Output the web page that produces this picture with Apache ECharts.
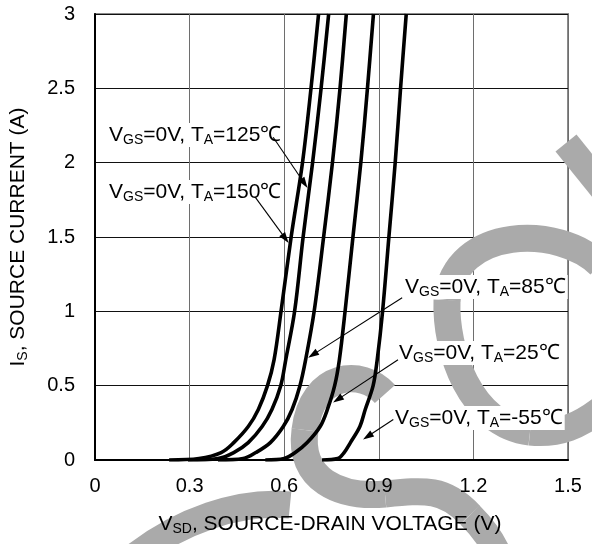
<!DOCTYPE html>
<html>
<head>
<meta charset="utf-8">
<script src="https://cdn.jsdelivr.net/npm/echarts@6/dist/echarts.min.js"></script>
<style>
html,body{margin:0;padding:0;background:#fff;}
#chart{width:592px;height:544px;}
</style>
</head>
<body>
<div id="chart"></div>
<script>
// ---- data (V_SD in volts, I_S in amperes) ----
var xTickLabels = ['0', '0.3', '0.6', '0.9', '1.2', '1.5'];
var yTickLabels = ['0', '0.5', '1', '1.5', '2', '2.5', '3'];

var curve150 = [[0.235,0],[0.33,0.01],[0.40,0.05],[0.44,0.117],[0.486,0.225],[0.518,0.34],[0.547,0.5],[0.568,0.675],[0.59,1.0],[0.622,1.5],[0.658,2.0],[0.685,2.5],[0.709,3.0]];
var curve125 = [[0.295,0],[0.39,0.01],[0.44,0.05],[0.486,0.117],[0.53,0.225],[0.561,0.34],[0.589,0.5],[0.605,0.675],[0.633,1.0],[0.66,1.5],[0.69,2.0],[0.717,2.5],[0.741,3.0]];
var curve85  = [[0.39,0],[0.47,0.01],[0.51,0.05],[0.556,0.117],[0.597,0.225],[0.625,0.34],[0.65,0.5],[0.668,0.675],[0.695,1.0],[0.725,1.5],[0.753,2.0],[0.777,2.5],[0.797,3.0]];
var curve25  = [[0.54,0],[0.60,0.01],[0.635,0.05],[0.673,0.117],[0.714,0.225],[0.737,0.34],[0.76,0.5],[0.775,0.675],[0.793,1.0],[0.818,1.5],[0.843,2.0],[0.864,2.5],[0.883,3.0]];
var curveM55 = [[0.72,0],[0.77,0.01],[0.79,0.05],[0.81,0.117],[0.84,0.225],[0.857,0.34],[0.882,0.5],[0.895,0.675],[0.912,1.0],[0.932,1.5],[0.952,2.0],[0.969,2.5],[0.987,3.0]];

var seriesNames = ['150', '125', '85', '25', '-55'];
var seriesData = [curve150, curve125, curve85, curve25, curveM55];

// annotation arrows: [tailV, tailI, headV, headI] in data coordinates
var arrow150 = [0.508, 1.768, 0.614, 1.46];
var arrow125 = [0.565, 2.171, 0.674, 1.83];
var arrow85  = [0.974, 1.091, 0.676, 0.688];
var arrow25  = [0.961, 0.674, 0.755, 0.386];
var arrowM55 = [0.946, 0.272, 0.850, 0.138];
var arrows = [arrow150, arrow125, arrow85, arrow25, arrowM55];

var labelTemps = ['150', '125', '85', '25', '-55'];

// ---- styling ----
var FONT = "'Liberation Sans', Arial, Helvetica, sans-serif";
var rich = {
  n: {fontFamily: FONT, fontSize: 21, lineHeight: 24, color: '#000'},
  s: {fontFamily: FONT, fontSize: 14, lineHeight: 10, verticalAlign: 'bottom', color: '#000'}
};

var chart = echarts.init(document.getElementById('chart'), null, {renderer: 'canvas'});

var series = seriesData.map(function (d, i) {
  return {
    name: seriesNames[i],
    type: 'line',
    xAxisIndex: 0,
    data: d,
    showSymbol: false,
    symbol: 'none',
    smooth: 0.35,
    clip: true,
    silent: true,
    lineStyle: {color: '#000', width: 3.6},
    z: 5
  };
});

series.push({
  type: 'custom',
  xAxisIndex: 0,
  silent: true,
  z: 30,
  clip: false,
  encode: {x: [0, 2], y: [1, 3]},
  data: arrows,
  renderItem: function (params, api) {
    var p0 = api.coord([api.value(0), api.value(1)]);
    var p1 = api.coord([api.value(2), api.value(3)]);
    var dx = p1[0] - p0[0], dy = p1[1] - p0[1];
    var L = Math.sqrt(dx * dx + dy * dy);
    var ux = dx / L, uy = dy / L;
    var hl = 11, hw = 3.6;
    var b = [p1[0] - ux * hl, p1[1] - uy * hl];
    return {
      type: 'group',
      children: [
        {type: 'line', shape: {x1: p0[0], y1: p0[1], x2: b[0] + ux * 2, y2: b[1] + uy * 2},
          style: {stroke: '#000', lineWidth: 1.1}},
        {type: 'polygon', shape: {points: [p1, [b[0] - uy * hw, b[1] + ux * hw], [b[0] + uy * hw, b[1] - ux * hw]]},
          style: {fill: '#000'}}
      ]
    };
  }
});

// watermark (decorative gray swooshes behind the curves)
var wmStyle = {stroke: '#aaaaaa', lineWidth: 27, fill: null, lineCap: 'butt'};
function bez(p0, c1, c2, p1) {
  return {type: 'bezierCurve', z: 1, silent: true,
    shape: {x1: p0[0], y1: p0[1], cpx1: c1[0], cpy1: c1[1], cpx2: c2[0], cpy2: c2[1], x2: p1[0], y2: p1[1]},
    style: wmStyle};
}
var watermark = [
  {type: 'line', z: 1, silent: true, shape: {x1: 566, y1: 143, x2: 612, y2: 200}, style: wmStyle},
  bez([600,265],[560,225],[455,225],[447,300]),
  bez([447,300],[445,350],[470,425],[530,432]),
  bez([530,432],[560,435],[580,425],[600,410]),
  bez([385,394],[362,368],[312,372],[305,430]),
  bez([305,430],[298,480],[340,498],[385,494]),
  bez([385,494],[425,490],[445,488],[470,515]),
  bez([470,515],[485,530],[495,545],[500,560]),
  bez([130,560],[180,520],[240,500],[290,505])
];

var xLabelCfg = {margin: 16, fontFamily: FONT, fontSize: 20, color: '#000',
  formatter: function (v) { return xTickLabels[Math.round(v / 0.3)]; }};

var option = {
  animation: false,
  backgroundColor: '#fff',
  grid: {left: 95, right: 24, top: 14, bottom: 84, show: true, borderColor: '#8a8a8a', borderWidth: 2},
  xAxis: [{
    type: 'value', min: 0, max: 1.5, interval: 0.3, position: 'bottom',
    axisLine: {show: true, onZero: false, lineStyle: {color: '#000', width: 2}},
    axisTick: {show: false},
    axisLabel: {show: false},
    splitLine: {show: true, lineStyle: {color: '#6e6e6e', width: 1}}
  }, {
    // label-only twin of the x axis, drawn above the watermark
    type: 'value', min: 0, max: 1.5, interval: 0.3, position: 'bottom', offset: 0, z: 10,
    axisLine: {show: false, onZero: false},
    axisTick: {show: false},
    axisLabel: xLabelCfg,
    splitLine: {show: false}
  }],
  yAxis: {
    type: 'value', min: 0, max: 3, interval: 0.5,
    axisLine: {show: true, lineStyle: {color: '#000', width: 2}},
    axisTick: {show: false},
    axisLabel: {margin: 20, fontFamily: FONT, fontSize: 20, color: '#000',
      formatter: function (v) { return yTickLabels[Math.round(v / 0.5)]; }},
    splitLine: {show: true, lineStyle: {color: '#111', width: 1}}
  },
  series: series
};
chart.setOption(option);

// text annotations (real text with subscripts)
function vgsLabel(t) {
  return '{n|V}{s|GS}{n|=0V, T}{s|A}{n|=' + t + '\u2103}';
}
var labelBoxes = [
  {x: 107, y: 192},  // 150
  {x: 107, y: 135},  // 125
  {x: 403, y: 287},  // 85
  {x: 397, y: 353},  // 25
  {x: 393, y: 418}   // -55
];
var texts = labelTemps.map(function (t, i) {
  return {
    type: 'text', z: 20, silent: true,
    x: labelBoxes[i].x, y: labelBoxes[i].y,
    style: {text: vgsLabel(t), rich: rich, align: 'left', verticalAlign: 'middle',
      backgroundColor: '#fff', padding: [0, 2, 0, 2]}
  };
});
texts.push({
  type: 'text', z: 20, silent: true, x: 330, y: 524,
  style: {text: '{n|V}{s|SD}{n|, SOURCE-DRAIN VOLTAGE (V)}', rich: rich, align: 'center', verticalAlign: 'middle'}
});
texts.push({
  type: 'text', z: 20, silent: true, x: 18, y: 237, rotation: Math.PI / 2,
  style: {text: '{n|I}{s|S}{n|, SOURCE CURRENT (A)}', rich: rich, align: 'center', verticalAlign: 'middle'}
});
chart.setOption({graphic: {elements: watermark.concat(texts)}});
</script>
</body>
</html>
